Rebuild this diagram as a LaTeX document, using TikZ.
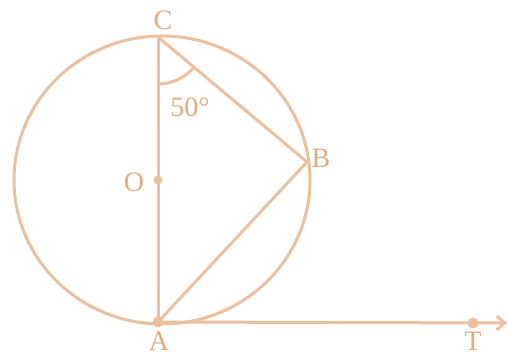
\documentclass[tikz,border=0pt]{standalone}
\usepackage{fontspec}
\setmainfont{Liberation Serif}
\usetikzlibrary{angles,arrows.meta}
\definecolor{linec}{RGB}{234,192,158}
\definecolor{textc}{RGB}{224,172,130}
\begin{document}
\begin{tikzpicture}[x=1pt,y=1pt,
  geo/.style={draw=linec,line width=3pt},
  lbl/.style={text=textc,font=\fontsize{28}{32}\selectfont,inner sep=0pt},
  dotc/.style={fill=linec}]
\useasboundingbox (0,0) rectangle (508,358);
\coordinate (C) at (158,321);
\coordinate (A) at (158,36);
\coordinate (O) at (158,178);
\coordinate (B) at (307,196);
\coordinate (T) at (473,35);
\coordinate (E) at (507,35);
\coordinate (M) at (162,178);
\draw[geo] (M) ellipse [x radius=148, y radius=144];
\draw[geo] (C) -- (A);
\draw[geo] (C) -- (B) -- (A);
\draw[geo,-{Straight Barb[length=8pt,width=14pt]}] (A) -- (E);
\pic[draw=linec,line width=3pt,angle radius=47pt] {angle = A--C--B};
\fill[dotc] (O) circle (4.5);
\fill[dotc] (A) circle (5.5);
\fill[dotc] (T) circle (5.5);
\node[lbl] (lC) at (163,338) {C};
\node[lbl] (lO) at (134,176) {O};
\node[lbl] (lB) at (321,200) {B};
\node[lbl,anchor=base] (lA) at (159,7) {A};
\node[lbl,anchor=base] (lT) at (473,7) {T};
\node[lbl] (l50) at (190,251) {50°};
\end{tikzpicture}
\end{document}
